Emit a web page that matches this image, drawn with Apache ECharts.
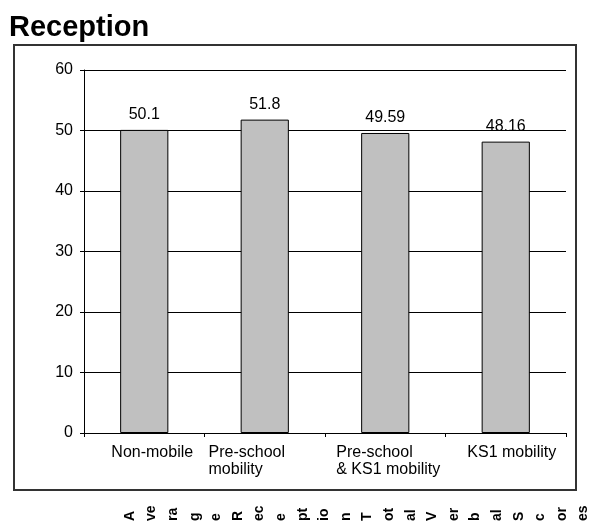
<!DOCTYPE html>
<html>
<head>
<meta charset="utf-8">
<script src="https://cdn.jsdelivr.net/npm/echarts@6/dist/echarts.min.js"></script>
<style>
html,body{margin:0;padding:0;background:#fff;}
#chart{width:595px;height:523px;}
</style>
</head>
<body>
<div id="chart"></div>
<script>
var titleText = 'Reception';
var categories = ['Non-mobile', 'Pre-school\nmobility', 'Pre-school\n& KS1 mobility', 'KS1 mobility'];
var values = [50.1, 51.8, 49.59, 48.16];
var valueLabels = ['50.1', '51.8', '49.59', '48.16'];
var yTicks = [0, 10, 20, 30, 40, 50, 60];
var axisTitleChunks = ['A','ve','ra','g','e','R','ec','e','pt','io','n','T','ot','al','V','er','b','al','S','c','or','es'];

var FONT = '"Liberation Sans", Arial, sans-serif';
var labelPads = [[0, 0, 0, 16], [0, 36, 0, 0], [0, 0, 0, 6], [0, 0, 0, 12]];

var chart = echarts.init(document.getElementById('chart'), null, {renderer: 'canvas'});

var graphics = [
  {type: 'rect', shape: {x: 14, y: 45, width: 562, height: 445}, style: {fill: 'none', stroke: '#333', lineWidth: 2}, z: 0},
  {type: 'text', x: 9, y: 42, style: {text: titleText, font: 'bold 29px ' + FONT, fill: '#000', textAlign: 'left', textVerticalAlign: 'bottom'}}
];
var startX = 130, stepX = 21.6;
axisTitleChunks.forEach(function (t, i) {
  graphics.push({
    type: 'text', x: startX + i * stepX, y: 521, rotation: Math.PI / 2,
    style: {text: t, font: 'bold 14px ' + FONT, fill: '#000', textAlign: 'left', textVerticalAlign: 'middle'}
  });
});

var catData = categories.map(function (c, i) {
  return {value: c, textStyle: {padding: labelPads[i]}};
});

chart.setOption({
  animation: false,
  backgroundColor: '#fff',
  grid: {left: 84, right: 29, top: 70, bottom: 90, containLabel: false},
  xAxis: {
    type: 'category',
    data: catData,
    axisLine: {lineStyle: {color: '#000', width: 1}},
    axisTick: {show: true, length: 4, alignWithLabel: false, lineStyle: {color: '#000'}},
    axisLabel: {
      interval: 0, margin: 11, color: '#000', fontSize: 16, fontFamily: FONT, lineHeight: 17,
      formatter: function (v) { return v.split('\n').map(function (s) { return '{l|' + s + '}'; }).join('\n'); },
      rich: {l: {align: 'left', fontSize: 16, fontFamily: FONT, color: '#000', lineHeight: 17}}
    }
  },
  yAxis: {
    type: 'value', min: yTicks[0], max: yTicks[yTicks.length - 1], interval: 10,
    axisLine: {show: true, lineStyle: {color: '#000', width: 1}},
    axisTick: {show: true, length: 4, lineStyle: {color: '#000'}},
    axisLabel: {color: '#000', fontSize: 16, fontFamily: FONT, margin: 11},
    splitLine: {show: true, lineStyle: {color: '#000', width: 1}}
  },
  series: [{
    type: 'bar',
    data: values,
    barWidth: '40%',
    itemStyle: {color: '#c0c0c0', borderColor: '#000', borderWidth: 1},
    label: {
      show: true, position: 'top', distance: 7, color: '#000', fontSize: 16, fontFamily: FONT,
      formatter: function (p) { return valueLabels[p.dataIndex]; }
    }
  }],
  graphic: graphics
});
</script>
</body>
</html>
